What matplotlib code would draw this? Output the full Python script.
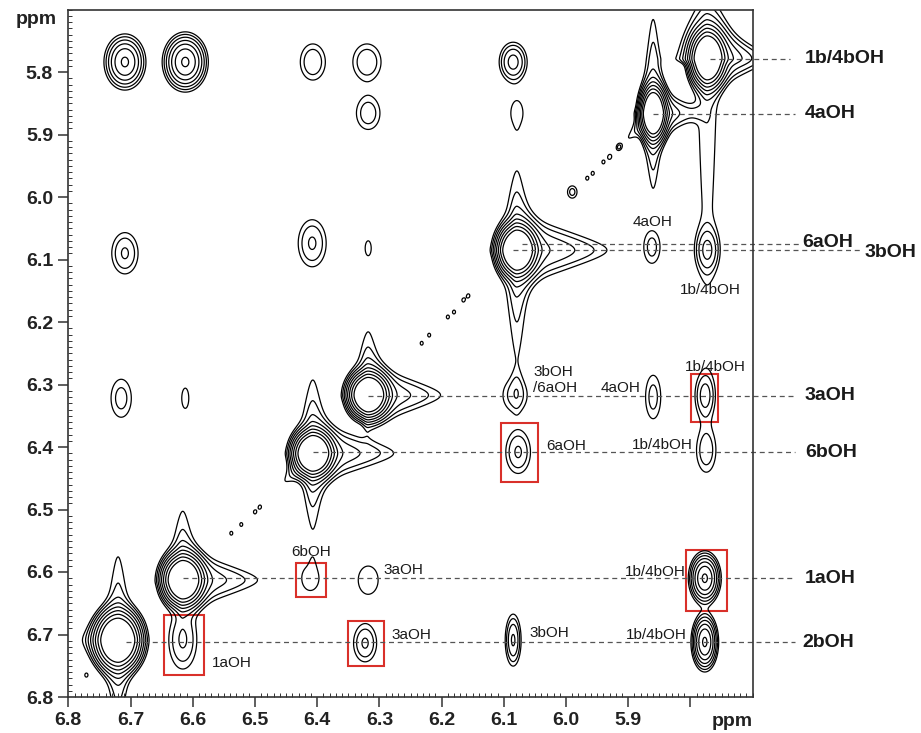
import numpy as np
import matplotlib
matplotlib.use("Agg")
import matplotlib.pyplot as plt
from matplotlib.patches import Rectangle
from matplotlib.ticker import MultipleLocator

plt.rcParams['font.family'] = ['Liberation Sans', 'DejaVu Sans']

# ---------------- data (ppm) ----------------
PEAK_X = [6.709, 6.612, 6.407, 6.320, 6.085,
          6.318, 6.079,
          6.709, 6.408, 6.318, 5.862, 5.773,
          6.715, 6.612, 6.082, 5.860, 5.777,
          6.077, 5.775,
          6.411, 6.318, 5.777,
          6.616, 6.323, 6.085, 5.777,
          6.720, 6.616, 6.407, 6.318, 6.079, 5.860, 5.773,
          5.990]
PEAK_Y = [5.784, 5.784, 5.784, 5.784, 5.784,
          5.866, 5.866,
          6.090, 6.074, 6.082, 6.080, 6.085,
          6.322, 6.322, 6.317, 6.320, 6.318,
          6.408, 6.406,
          6.610, 6.613, 6.610,
          6.709, 6.714, 6.709, 6.712,
          6.709, 6.613, 6.410, 6.317, 6.085, 5.866, 5.778,
          5.992]
PEAK_AMP = [8.07, 12.1, 2.2, 2.2, 4.0,
            2.0, 1.3,
            2.39, 2.39, 1.05, 1.8, 3.0,
            1.8, 1.1, 1.9, 1.8, 2.39,
            2.39, 1.8,
            1.3, 1.3, 12.1,
            2.39, 2.39, 3.59, 12.1,
            50, 50, 50, 50, 50, 50, 50,
            1.8]
PEAK_SX = [0.0165, 0.0166, 0.0160, 0.018, 0.0135,
           0.0160, 0.0134,
           0.016, 0.017, 0.0155, 0.012, 0.012,
           0.015, 0.0129, 0.0170, 0.0112, 0.011,
           0.015, 0.013,
           0.019, 0.022, 0.0119,
           0.017, 0.014, 0.008, 0.010,
           0.0175, 0.0155, 0.0150, 0.0150, 0.0145, 0.0095, 0.0130,
           0.007]
PEAK_SY = [0.022, 0.0216, 0.023, 0.023, 0.019,
           0.022, 0.027,
           0.025, 0.0285, 0.038, 0.024, 0.022,
           0.028, 0.037, 0.022, 0.032, 0.024,
           0.026, 0.027,
           0.027, 0.031, 0.0197,
           0.035, 0.0225, 0.026, 0.0215,
           0.022, 0.019, 0.0170, 0.0170, 0.019, 0.020, 0.021,
           0.009]

# t1-noise ridges / tails: start, direction, amplitude, extent, base width, taper
RIDGE_X = [6.079, 6.079, 6.079, 6.318, 6.318, 6.407, 6.407, 6.407, 6.407,
           6.616, 6.616, 6.720, 6.720, 5.860, 5.860, 5.860, 5.773, 5.773, 5.773,
           5.860, 6.720]
RIDGE_Y = [6.085, 6.085, 6.085, 6.317, 6.317, 6.410, 6.410, 6.410, 6.410,
           6.613, 6.613, 6.709, 6.709, 5.866, 5.866, 5.866, 5.778, 5.778, 5.778,
           5.866, 6.709]
RIDGE_UX = [-1, 0, 0, -1, 0, -1, 0, 0, 0.707,
            -1, 0, 0, 0, 0, 0, -1, -1, 0, 0,
            0.707, 1]
RIDGE_UY = [0, -1, 1, 0, -1, 0, -1, 1, 0.707,
            0, -1, -1, 1, -1, 1, 0, 0, 1, -1,
            0.707, 0]
RIDGE_AMP = [4.5, 2.5, 2.5, 4.0, 2.5, 4.0, 2.5, 2.5, 2.0,
             4.0, 2.5, 2.5, 3.0, 3.0, 3.0, 4.0, 5.0, 1.7, 4.0,
             2.0, 2.0]
RIDGE_LEN = [0.186, 0.21, 0.283, 0.155, 0.167, 0.173, 0.195, 0.20, 0.12,
             0.16, 0.183, 0.222, 0.20, 0.225, 0.18, 0.093, 0.12, 0.75, 0.13,
             0.11, 0.09]
RIDGE_W = [0.034, 0.020, 0.018, 0.030, 0.020, 0.030, 0.020, 0.018, 0.014,
           0.030, 0.020, 0.018, 0.018, 0.014, 0.014, 0.026, 0.030, 0.016, 0.030,
           0.012, 0.030]
RIDGE_TAPER = [0.8, 0.8, 0.8, 0.8, 0.8, 0.8, 0.8, 0.8, 0.8,
               0.8, 0.8, 0.8, 0.8, 0.8, 0.8, 0.8, 0.8, 0.3, 0.6,
               0.8, 0.8]

DOT_X = [6.771, 6.538, 6.522, 6.500, 6.492, 6.232, 6.220, 6.190, 6.180, 6.165,
         6.157, 5.966, 5.957, 5.940, 5.930, 5.915]
DOT_Y = [6.765, 6.538, 6.524, 6.504, 6.496, 6.234, 6.221, 6.192, 6.184, 6.165,
         6.158, 5.970, 5.962, 5.944, 5.936, 5.920]

LEVEL_BASE = 1.0
LEVEL_RATIO = 1.5
N_LEVELS = 8

ROW_LABELS = ['1b/4bOH', '4aOH', '6aOH', '3bOH', '3aOH', '6bOH', '1aOH', '2bOH']
ROW_Y = [5.779, 5.867, 6.075, 6.085, 6.318, 6.408, 6.610, 6.712]
ROW_LABEL_Y = [5.779, 5.867, 6.072, 6.088, 6.318, 6.408, 6.610, 6.712]
ROW_X0 = [5.768, 5.860, 6.071, 6.085, 6.318, 6.407, 6.616, 6.707]
ROW_X1 = [5.640, 5.632, 5.624, 5.524, 5.632, 5.632, 5.632, 5.632]
ROW_LABEL_X = [5.616, 5.616, 5.620, 5.520, 5.616, 5.616, 5.616, 5.620]

NOTE_TEXT = ['4aOH', '1b/4bOH', '3bOH\n/6aOH', '4aOH', '1b/4bOH', '6aOH',
             '1b/4bOH', '6bOH', '3aOH', '1b/4bOH', '3aOH', '1aOH', '3bOH', '1b/4bOH']
NOTE_X = [5.861, 5.768, 6.053, 5.881, 5.760, 6.032,
          5.796, 6.410, 6.294, 5.807, 6.281, 6.569, 6.059, 5.806]
NOTE_Y = [6.040, 6.149, 6.293, 6.306, 6.272, 6.398,
          6.397, 6.568, 6.597, 6.600, 6.701, 6.746, 6.698, 6.701]
NOTE_HA = ['center', 'center', 'left', 'right', 'center', 'left',
           'right', 'center', 'left', 'right', 'left', 'left', 'left', 'right']

BOX_X0 = [6.646, 6.434, 6.350, 6.104, 5.799, 5.807]
BOX_X1 = [6.582, 6.386, 6.292, 6.045, 5.755, 5.741]
BOX_Y0 = [6.669, 6.586, 6.678, 6.362, 6.283, 6.565]
BOX_Y1 = [6.765, 6.640, 6.750, 6.456, 6.360, 6.662]

XTICKS = [6.8, 6.7, 6.6, 6.5, 6.4, 6.3, 6.2, 6.1, 6.0, 5.9, 5.8]
XTICK_LABELS = ['6.8', '6.7', '6.6', '6.5', '6.4', '6.3', '6.2', '6.1', '6.0', '5.9', '']
YTICKS = [5.8, 5.9, 6.0, 6.1, 6.2, 6.3, 6.4, 6.5, 6.6, 6.7, 6.8]
YTICK_LABELS = ['5.8', '5.9', '6.0', '6.1', '6.2', '6.3', '6.4', '6.5', '6.6', '6.7', '6.8']

# ---------------- build spectrum surface ----------------
gx = np.linspace(5.65, 6.85, 1400)
gy = np.linspace(5.65, 6.85, 1400)
X, Y = np.meshgrid(gx, gy)
Z = np.zeros_like(X)
for x0, y0, a, sx, sy in zip(PEAK_X, PEAK_Y, PEAK_AMP, PEAK_SX, PEAK_SY):
    Z += a * np.outer(np.exp(-(gy - y0) ** 2 / (2 * sy ** 2)),
                      np.exp(-(gx - x0) ** 2 / (2 * sx ** 2)))
for x0, y0 in zip(DOT_X, DOT_Y):
    Z += 1.25 * np.outer(np.exp(-(gy - y0) ** 2 / (2 * 0.0045 ** 2)),
                         np.exp(-(gx - x0) ** 2 / (2 * 0.0035 ** 2)))
for x0, y0, ux, uy, a, T, s, tp in zip(RIDGE_X, RIDGE_Y, RIDGE_UX, RIDGE_UY,
                                       RIDGE_AMP, RIDGE_LEN, RIDGE_W, RIDGE_TAPER):
    t = (X - x0) * ux + (Y - y0) * uy
    w = -(X - x0) * uy + (Y - y0) * ux
    frac = np.clip(t / T, 0, 1)
    along = np.where(t >= 0, 1 - frac, np.exp(-t ** 2 / (2 * 0.006 ** 2)))
    width = s * (1 - tp * frac)
    Z += a * along * np.exp(-w ** 2 / (2 * width ** 2))

levels = LEVEL_BASE * LEVEL_RATIO ** np.arange(N_LEVELS)

# ---------------- figure ----------------
W, H = 921, 733
fig = plt.figure(figsize=(W / 100, H / 100), dpi=100)
ax = fig.add_axes([68.3 / W, 1 - 697 / H, (752.7 - 68.3) / W, (697 - 9.5) / H])

ax.contour(X, Y, Z, levels=levels, colors='black', linewidths=0.9)

ax.set_xlim(6.8, 5.7)
ax.set_ylim(6.8, 5.7)

for lbl, y, x0, x1, lx, ly in zip(ROW_LABELS, ROW_Y, ROW_X0, ROW_X1, ROW_LABEL_X, ROW_LABEL_Y):
    ax.plot([x0, x1], [y, y], ls=(0, (4, 3)), color='#555555', lw=0.9, clip_on=False)
    ax.text(lx, ly, lbl, ha='left', va='center', fontsize=14, fontweight='bold',
            color='#1a1a1a', clip_on=False)

for t, x, y, ha in zip(NOTE_TEXT, NOTE_X, NOTE_Y, NOTE_HA):
    ax.text(x, y, t, ha=ha, va='center', fontsize=11, color='#1a1a1a',
            linespacing=1.15)

for x0, x1, y0, y1 in zip(BOX_X0, BOX_X1, BOX_Y0, BOX_Y1):
    ax.add_patch(Rectangle((x0, y0), x1 - x0, y1 - y0, fill=False,
                           edgecolor='#d9302a', lw=1.5))

ax.set_xticks(XTICKS)
ax.set_xticklabels(XTICK_LABELS, fontsize=14, fontweight='bold', color='#222222')
ax.set_yticks(YTICKS)
ax.set_yticklabels(YTICK_LABELS, fontsize=14, fontweight='bold', color='#222222')
ax.xaxis.set_minor_locator(MultipleLocator(0.01))
ax.yaxis.set_minor_locator(MultipleLocator(0.01))
ax.tick_params(which='major', direction='out', length=7, width=1.1, color='#333333', pad=4)
ax.tick_params(which='minor', direction='in', length=3, width=0.7, color='#333333')
for sp in ax.spines.values():
    sp.set_color('#333333')
    sp.set_linewidth(1.2)

fig.text(732 / W, 1 - 722 / H, 'ppm', ha='center', va='center', fontsize=14,
         fontweight='bold', color='#222222')
fig.text(36 / W, 1 - 19 / H, 'ppm', ha='center', va='center', fontsize=14,
         fontweight='bold', color='#222222')

fig.savefig('out.png', dpi=100)
